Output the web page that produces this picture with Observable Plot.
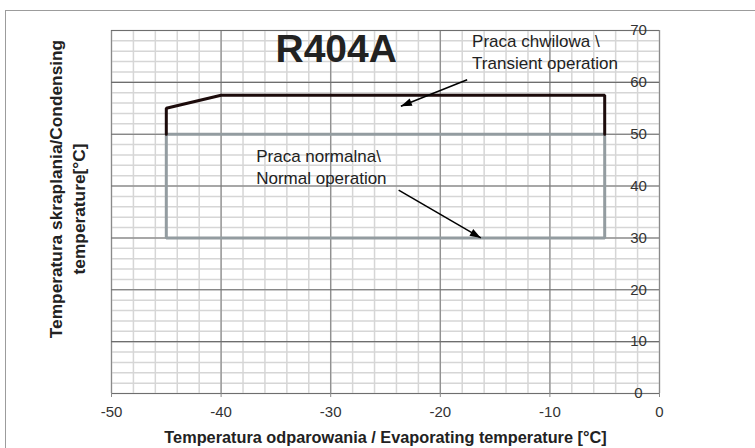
<!DOCTYPE html>
<html>
<head>
<meta charset="utf-8">
<script src="https://cdn.jsdelivr.net/npm/d3@7"></script>
<script src="https://cdn.jsdelivr.net/npm/@observablehq/plot@0.6"></script>
<style>
  html, body { margin: 0; padding: 0; background: #fff; }
  #wrap { position: relative; width: 755px; height: 448px; overflow: hidden; background: #fff; }
  #frame { position: absolute; left: 5px; top: 10px; width: 800px; height: 500px;
           border-left: 1.5px solid #9c9c9c; border-top: 1.5px solid #9c9c9c; pointer-events: none; }
  #wrap svg { position: absolute; left: 0; top: 0; }
</style>
</head>
<body>
<div id="wrap"><div id="frame"></div></div>
<script>
// ---- data ----
const xTicks = [-50, -40, -30, -20, -10, 0];
const yTicks = [0, 10, 20, 30, 40, 50, 60, 70];
const xMinor = d3.range(-50, 0.001, 2);
const yMinor = d3.range(0, 70.001, 2);

const normalX = [-45, -5, -5, -45, -45];
const normalY = [50, 50, 30, 30, 50];
const transientX = [-45, -45, -40, -5, -5];
const transientY = [50, 55, 57.5, 57.5, 50];

const arrowX1 = [-17.55, -23.8];
const arrowY1 = [60.5, 39.2];
const arrowX2 = [-23.6, -16.3];
const arrowY2 = [55.4, 30];

const noteText = ["Praca chwilowa \\\nTransient operation", "Praca normalna\\\nNormal operation"];
const noteX = [-17.1, -36.8];
const noteY = [66.1, 43.8];

const titleText = "R404A";
const titleX = -29.5;
const titleY = 66.3;

const xLabel = "Temperatura odparowania / Evaporating temperature [°C]";
const yLabel1 = "Temperatura skraplania/Condensing";
const yLabel2 = "temperature[°C]";

// ---- layout ----
const W = 755, H = 448, ML = 111, MR = 96, MT = 30, MB = 55;
const sx = d3.scaleLinear([-50, 0], [ML, W - MR]);
const sy = d3.scaleLinear([0, 70], [H - MB, MT]);

const normal = normalX.map((x, i) => ({x, y: normalY[i]}));
const transient = transientX.map((x, i) => ({x, y: transientY[i]}));
const arrows = arrowX1.map((x1, i) => ({x1, y1: arrowY1[i], x2: arrowX2[i], y2: arrowY2[i]}));
const notes = noteText.map((t, i) => ({t, x: noteX[i], y: noteY[i]}));

function headSymbol(a) {
  const dx = sx(a.x2) - sx(a.x1), dy = sy(a.y2) - sy(a.y1);
  const len = Math.hypot(dx, dy), ux = dx / len, uy = dy / len;
  const L = 11, Wd = 3.8;
  return {
    draw(ctx) {
      ctx.moveTo(0, 0);
      ctx.lineTo(-ux * L - uy * Wd, -uy * L + ux * Wd);
      ctx.lineTo(-ux * L + uy * Wd, -uy * L - ux * Wd);
      ctx.closePath();
    }
  };
}

const marks = [
  Plot.ruleX(xMinor, {stroke: "#d6d6d6", strokeWidth: 1.5}),
  Plot.ruleY(yMinor, {stroke: "#d6d6d6", strokeWidth: 1.5}),
  Plot.ruleX(xTicks, {stroke: "#8a8a8a", strokeWidth: 1.2}),
  Plot.ruleY(yTicks, {stroke: "#6e6e6e", strokeWidth: 1.1}),
  Plot.axisX({ticks: xTicks, tickSize: 4, tickPadding: 9, fontSize: 15, stroke: "#8a8a8a", fill: "#333",
              tickFormat: d => String(d), label: null}),
  Plot.axisY({ticks: yTicks, anchor: "right", tickSize: 0, tickPadding: 0, textAnchor: "middle", dx: -21,
              fontSize: 15, fill: "#333", tickFormat: d => String(d), label: null}),
  Plot.line(normal, {x: "x", y: "y", stroke: "#939ca0", strokeWidth: 3, strokeLinejoin: "miter"}),
  Plot.line(transient, {x: "x", y: "y", stroke: "#1c0b0b", strokeWidth: 3, strokeLinejoin: "miter"}),
  Plot.link(arrows, {x1: "x1", y1: "y1", x2: "x2", y2: "y2", stroke: "#000", strokeWidth: 1.5}),
  ...arrows.map(a => Plot.dot([a], {x: "x2", y: "y2", symbol: headSymbol(a), fill: "#000", stroke: "none", r: 5})),
  Plot.text(notes, {x: "x", y: "y", text: "t", textAnchor: "start", lineAnchor: "middle", fontSize: 17,
                    lineHeight: 1.3, fill: "#222"}),
  Plot.text([titleText], {x: () => titleX, y: () => titleY, text: d => d, fontSize: 39, fontWeight: "bold",
                          textAnchor: "middle", lineAnchor: "middle", fill: "#222"}),
  Plot.text([xLabel], {frameAnchor: "bottom", text: d => d, dy: 44, fontSize: 16.3, fontWeight: "bold",
                       textAnchor: "middle", lineAnchor: "middle", fill: "#222"}),
  Plot.text([yLabel1], {frameAnchor: "left", text: d => d, dx: -55.5, dy: -23, rotate: -90, fontSize: 17.3,
                        fontWeight: "bold", textAnchor: "middle", lineAnchor: "middle", fill: "#222"}),
  Plot.text([yLabel2], {frameAnchor: "left", text: d => d, dx: -32, dy: -3, rotate: -90, fontSize: 17.3,
                        fontWeight: "bold", textAnchor: "middle", lineAnchor: "middle", fill: "#222"})
];

const chart = Plot.plot({
  width: W, height: H,
  marginLeft: ML, marginRight: MR, marginTop: MT, marginBottom: MB,
  x: {domain: [-50, 0]},
  y: {domain: [0, 70]},
  style: {fontFamily: "'Liberation Sans', Arial, sans-serif", background: "transparent", color: "#333"},
  marks
});
document.getElementById("wrap").insertBefore(chart, document.getElementById("frame"));
</script>
</body>
</html>
